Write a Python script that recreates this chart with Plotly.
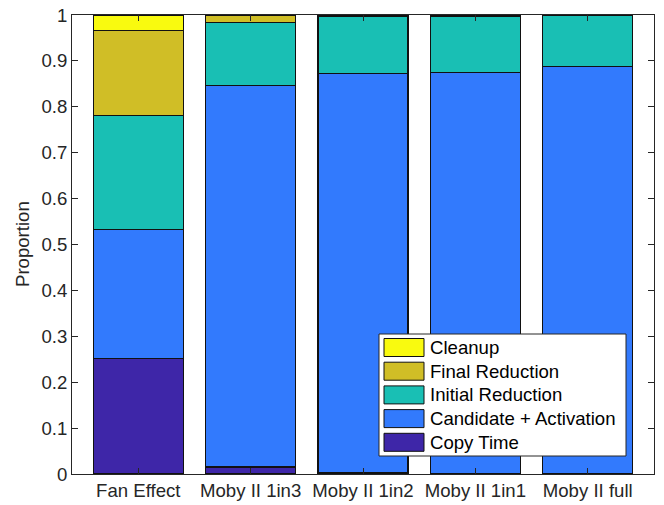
import plotly.graph_objects as go

# Runtime breakdown per configuration (fractions of total time)
categories = ["Fan Effect", "Moby II 1in3", "Moby II 1in2", "Moby II 1in1", "Moby II full"]
copy_time = [0.252, 0.015, 0.003, 0.001, 0.001]
candidate_activation = [0.281, 0.832, 0.870, 0.873, 0.887]
initial_reduction = [0.248, 0.137, 0.125, 0.124, 0.112]
final_reduction = [0.186, 0.015, 0.002, 0.002, 0.000]
cleanup = [0.033, 0.001, 0.000, 0.000, 0.000]

y_ticks = [0, 0.1, 0.2, 0.3, 0.4, 0.5, 0.6, 0.7, 0.8, 0.9, 1]
y_tick_labels = ["0", "0.1", "0.2", "0.3", "0.4", "0.5", "0.6", "0.7", "0.8", "0.9", "1"]

# Stacked bottom-to-top
series = [
    ("Copy Time", copy_time, "#3E26A8"),
    ("Candidate + Activation", candidate_activation, "#327AFD"),
    ("Initial Reduction", initial_reduction, "#19BFB4"),
    ("Final Reduction", final_reduction, "#D0BE26"),
    ("Cleanup", cleanup, "#F9FA0F"),
]

FONT = "Liberation Sans, Arial, Helvetica, sans-serif"
FS = 18.6
AXIS_COLOR = "#262626"

x_pos = list(range(1, len(categories) + 1))

fig = go.Figure()
for name, vals, color in series:
    fig.add_trace(go.Bar(
        x=x_pos, y=vals, name=name, width=0.8,
        marker=dict(color=color, line=dict(color="#111111", width=1.3)),
        showlegend=False,
    ))

W, H = 664, 505
ml, mr, mt, mb = 72, 10, 15, 31

fig.update_layout(
    width=W, height=H,
    margin=dict(l=ml, r=mr, t=mt, b=mb, autoexpand=False),
    barmode="stack",
    bargap=0.2,
    paper_bgcolor="white",
    plot_bgcolor="white",
    font=dict(family=FONT, size=FS, color=AXIS_COLOR),
    xaxis=dict(
        range=[0.41, 5.59], automargin=False,
        tickmode="array", tickvals=x_pos, ticktext=categories,
        ticks="inside", ticklen=6, tickcolor=AXIS_COLOR, tickwidth=1,
        showline=True, linecolor=AXIS_COLOR, linewidth=1, mirror="ticks",
        showgrid=False, zeroline=False,
        tickfont=dict(size=FS, color=AXIS_COLOR),
    ),
    yaxis=dict(
        range=[0, 1], automargin=False,
        tickmode="array", tickvals=y_ticks, ticktext=y_tick_labels,
        ticks="inside", ticklen=6, tickcolor=AXIS_COLOR, tickwidth=1,
        showline=True, linecolor=AXIS_COLOR, linewidth=1, mirror="ticks",
        showgrid=False, zeroline=False,
        tickfont=dict(size=FS, color=AXIS_COLOR),
    ),
)

pw = W - ml - mr
ph = H - mt - mb

def px_x(x):
    return (x - ml) / pw

def px_y(y):
    return (H - mb - y) / ph

# Y-axis title
fig.add_annotation(xref="paper", yref="paper", x=px_x(22), y=px_y(244),
                   xanchor="center", yanchor="middle", text="Proportion",
                   textangle=-90, showarrow=False,
                   font=dict(family=FONT, size=FS, color=AXIS_COLOR))

# Legend drawn as a boxed key inside the axes (top entry = top of stack)
box_l, box_t, box_r, box_b = 379, 334, 626, 456
fig.add_shape(type="rect", xref="paper", yref="paper",
              x0=px_x(box_l), x1=px_x(box_r), y0=px_y(box_b), y1=px_y(box_t),
              fillcolor="white", line=dict(color="#262626", width=1), layer="above")
row_h = 23.7
first_row = 347.5
for i, (name, _, color) in enumerate(reversed(series)):
    cy = first_row + i * row_h
    fig.add_shape(type="rect", xref="paper", yref="paper",
                  x0=px_x(384), x1=px_x(424), y0=px_y(cy + 9), y1=px_y(cy - 9),
                  fillcolor=color, line=dict(color="#111111", width=1), layer="above")
    fig.add_annotation(xref="paper", yref="paper", x=px_x(428), y=px_y(cy),
                       xanchor="left", yanchor="middle", text=name, showarrow=False,
                       font=dict(family=FONT, size=FS, color="#000000"))

fig.write_html("out.html")
